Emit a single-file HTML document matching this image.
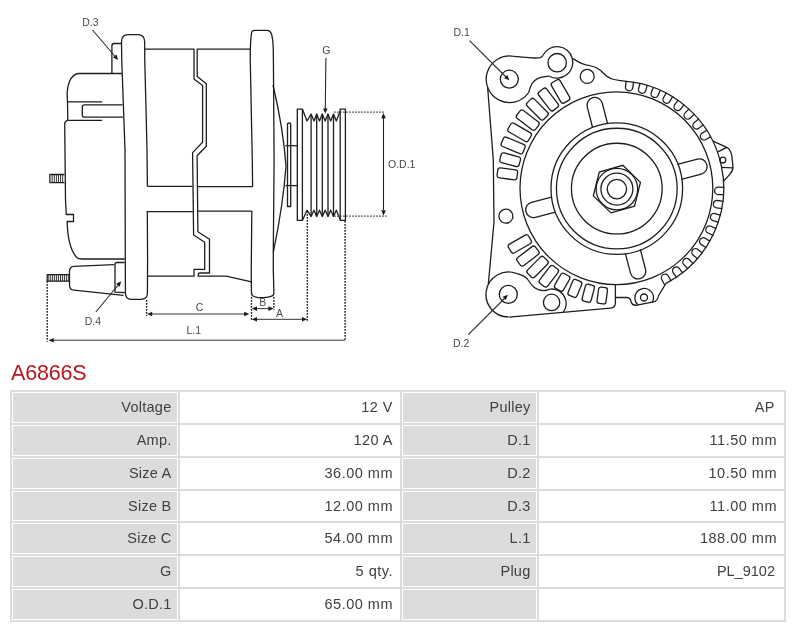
<!DOCTYPE html>
<html><head><meta charset="utf-8">
<style>
html,body{margin:0;padding:0;background:#fff;width:800px;height:627px;overflow:hidden;}
h1,table,#draw{will-change:transform;}
body{position:relative;font-family:"Liberation Sans",sans-serif;}
#draw{position:absolute;left:0;top:0;width:800px;height:355px;}
h1{position:absolute;left:11px;top:360px;margin:0;font-weight:normal;font-size:21.5px;letter-spacing:-0.2px;line-height:26px;color:#b8161e;}
table{position:absolute;left:10px;top:390px;border-collapse:separate;border-spacing:2px;background:#dcdcdc;}
td{border:1px solid #fff;height:30.86px;padding:0 5px 1px 0;box-sizing:border-box;text-align:right;font-size:14.5px;color:#404040;}
td.l{background:#dcdcdc;letter-spacing:0.25px;padding-right:5.5px;}
td.v{background:#fff;letter-spacing:0.5px;padding-right:6px;}
td.c1{width:166px;}
td.c2{width:220px;}
td.c3{width:135px;}
td.c4{width:245px;}
</style></head><body>
<svg id="draw" width="800" height="355" viewBox="0 0 800 355" font-family="Liberation Sans, sans-serif">
<path d="M121.5,43.5 L114.2,43.5 Q111.9,43.5 111.9,46 L111.9,73.5" fill="none" stroke="#1e1e1e" stroke-width="1.3" stroke-linejoin="round" />
<path d="M121.8,73.5 L78.5,73.5 C70,74.4 67,86 67.2,96 L67.5,101.9 L67.8,120.3" fill="none" stroke="#1e1e1e" stroke-width="1.3" stroke-linejoin="round" />
<path d="M67.5,101.9 L102.2,101.9" fill="none" stroke="#1e1e1e" stroke-width="1.3" stroke-linejoin="round" />
<path d="M67.8,120.3 L102.2,120.3" fill="none" stroke="#1e1e1e" stroke-width="1.3" stroke-linejoin="round" />
<path d="M122.6,104.8 L84.2,104.8 Q82.3,104.8 82.3,106.7 L82.3,115.3 Q82.3,117.2 84.2,117.2 L122.9,117.2" fill="none" stroke="#1e1e1e" stroke-width="1.3" stroke-linejoin="round" />
<path d="M67.8,120.3 Q64.7,120.8 64.7,124 L65.5,200 L66.3,214.5 L73.5,214.5 L73.5,221.5 L67.1,221.5 C67.5,236 70,250 76.7,257.5 Q78,259 82,259 L124.7,259" fill="none" stroke="#1e1e1e" stroke-width="1.3" stroke-linejoin="round" />
<path d="M64.5,174.5 L49.9,174.5 L49.9,182.6 L64.5,182.6" fill="none" stroke="#1e1e1e" stroke-width="1.3" stroke-linejoin="round" />
<path d="M52.20,174.5 L52.20,182.6" fill="none" stroke="#1e1e1e" stroke-width="0.9" stroke-linejoin="round" />
<path d="M54.30,174.5 L54.30,182.6" fill="none" stroke="#1e1e1e" stroke-width="0.9" stroke-linejoin="round" />
<path d="M56.40,174.5 L56.40,182.6" fill="none" stroke="#1e1e1e" stroke-width="0.9" stroke-linejoin="round" />
<path d="M58.50,174.5 L58.50,182.6" fill="none" stroke="#1e1e1e" stroke-width="0.9" stroke-linejoin="round" />
<path d="M60.60,174.5 L60.60,182.6" fill="none" stroke="#1e1e1e" stroke-width="0.9" stroke-linejoin="round" />
<path d="M62.70,174.5 L62.70,182.6" fill="none" stroke="#1e1e1e" stroke-width="0.9" stroke-linejoin="round" />
<path d="M147.4,186.3 L147,150 L146.3,120 L144.75,60 L144.7,42 Q144.5,34.7 138,34.7 L128,34.7 Q121.5,34.7 121.5,42 L121.75,60 L125,150 L125.4,293 Q125.6,299.3 131,299.3 L141,299.3 Q147.4,299.3 147.4,293.5 L147.6,260 L147.3,211.6" fill="none" stroke="#1e1e1e" stroke-width="1.3" stroke-linejoin="round" />
<path d="M144.9,49.2 L194,49.2 L194,79 L202.6,85.4 L202.6,142.3 L192.6,152.6 L193.6,235 L204.7,242.2 L204.7,269.3 L194,269.3 L194,276.2 L147,276.2" fill="none" stroke="#1e1e1e" stroke-width="1.3" stroke-linejoin="round" />
<path d="M147.3,186.3 L192.6,186.3" fill="none" stroke="#1e1e1e" stroke-width="1.3" stroke-linejoin="round" />
<path d="M146.7,211.6 L193.2,211.6" fill="none" stroke="#1e1e1e" stroke-width="1.3" stroke-linejoin="round" />
<path d="M250.3,49.2 L197.2,49.2 L197.2,76.6 L206.3,83.8 L206.3,146.3 L197.1,155.8 L197.9,231.8 L209.5,239.3 L209.5,273 L200,273 Q198.3,273 198.3,274.6 L198.3,276.2 L226.3,276.2 L251.5,281.8" fill="none" stroke="#1e1e1e" stroke-width="1.3" stroke-linejoin="round" />
<path d="M197.2,186.6 L252.6,186.7" fill="none" stroke="#1e1e1e" stroke-width="1.3" stroke-linejoin="round" />
<path d="M197.9,211.1 L251.8,211.1" fill="none" stroke="#1e1e1e" stroke-width="1.3" stroke-linejoin="round" />
<path d="M252.6,186.7 L252.3,160 L250.25,60 L250.3,49 Q250.8,38 251.5,33 Q252,30.4 254.5,30.4 L267,30.4 Q270,30.4 271.3,33.4 Q273,38 273.3,49.6 L273.4,60 L274.1,160 L273.3,252 L273.3,270 L273.9,293 Q273.9,295.8 271,296.3 Q262.5,299 254,296.5 Q251.5,295.8 251.4,292 L251.25,270 L251.8,211.1" fill="none" stroke="#1e1e1e" stroke-width="1.3" stroke-linejoin="round" />
<path d="M273,85 C277.5,104 284,138 286,166 C284,194 277.5,232 273.3,252.3" fill="none" stroke="#1e1e1e" stroke-width="1.3" stroke-linejoin="round" />
<path d="M287.5,206.5 L287.5,124 Q287.5,123 289.1,123 Q290.7,123 290.7,124 L290.7,206.5 Z" fill="none" stroke="#1e1e1e" stroke-width="1.3" stroke-linejoin="round" />
<path d="M285.5,145.7 L297.4,145.7" fill="none" stroke="#1e1e1e" stroke-width="1.3" stroke-linejoin="round" />
<path d="M285.5,185.6 L297.4,185.6" fill="none" stroke="#1e1e1e" stroke-width="1.3" stroke-linejoin="round" />
<path d="M302.4,109.1 L297.3,109.1 L297.3,220.4 L302.4,220.4 Z" fill="none" stroke="#1e1e1e" stroke-width="1.3" stroke-linejoin="round" />
<path d="M340.2,109.1 L345.4,109.1 L345.4,220.4 L340.2,220.4 Z" fill="none" stroke="#1e1e1e" stroke-width="1.3" stroke-linejoin="round" />
<path d="M302.4,109.1 L307.0,121 L311.1,114 L314.0,121 L316.7,114 L319.5,121 L322.3,114 L325.1,121 L328.0,114 L330.7,121 L333.5,114 L336.3,121 L340.2,111" fill="none" stroke="#1e1e1e" stroke-width="1.3" stroke-linejoin="round" />
<path d="M302.4,220.4 L307.0,210.2 L311.1,216.4 L314.0,210.2 L316.7,216.4 L319.5,210.2 L322.3,216.4 L325.1,210.2 L328.0,216.4 L330.7,210.2 L333.5,216.4 L336.3,210.2 L340.2,219.5" fill="none" stroke="#1e1e1e" stroke-width="1.3" stroke-linejoin="round" />
<path d="M311.1,114 L311.1,216.4" fill="none" stroke="#1e1e1e" stroke-width="1.3" stroke-linejoin="round" />
<path d="M316.7,114 L316.7,216.4" fill="none" stroke="#1e1e1e" stroke-width="1.3" stroke-linejoin="round" />
<path d="M322.3,114 L322.3,216.4" fill="none" stroke="#1e1e1e" stroke-width="1.3" stroke-linejoin="round" />
<path d="M328.0,114 L328.0,216.4" fill="none" stroke="#1e1e1e" stroke-width="1.3" stroke-linejoin="round" />
<path d="M333.5,114 L333.5,216.4" fill="none" stroke="#1e1e1e" stroke-width="1.3" stroke-linejoin="round" />
<text x="326.4" y="53.5" font-size="10.5" text-anchor="middle" fill="#484848">G</text>
<line x1="325.9" y1="58" x2="325.3" y2="109" stroke="#2a2a2a" stroke-width="1.1"/>
<polygon points="325.30,113.60 323.00,108.40 327.60,108.40" fill="#1a1a1a"/>
<line x1="334" y1="112.2" x2="385" y2="112.2" stroke="#555" stroke-width="1.2" stroke-dasharray="1.8,1.2"/>
<line x1="334" y1="216.2" x2="386.6" y2="216.2" stroke="#555" stroke-width="1.2" stroke-dasharray="1.8,1.2"/>
<line x1="383.5" y1="118" x2="383.5" y2="210" stroke="#222" stroke-width="1.1"/>
<polygon points="383.50,113.00 385.80,118.20 381.20,118.20" fill="#1a1a1a"/>
<polygon points="383.50,215.50 381.20,210.30 385.80,210.30" fill="#1a1a1a"/>
<text x="388" y="168.3" font-size="10.5" text-anchor="start" fill="#484848">O.D.1</text>
<text x="90.3" y="25.5" font-size="10.5" text-anchor="middle" fill="#484848">D.3</text>
<line x1="92.5" y1="30" x2="116" y2="57.5" stroke="#2a2a2a" stroke-width="1.1"/>
<polygon points="118.10,59.90 112.97,57.45 116.47,54.45" fill="#1a1a1a"/>
<text x="92.8" y="325" font-size="10.5" text-anchor="middle" fill="#484848">D.4</text>
<line x1="95.8" y1="312" x2="119" y2="284" stroke="#2a2a2a" stroke-width="1.1"/>
<polygon points="121.20,281.20 119.67,286.68 116.12,283.75" fill="#1a1a1a"/>
<line x1="47.2" y1="281" x2="47.2" y2="341.8" stroke="#161616" stroke-width="1.35" stroke-dasharray="1.8,1.2"/>
<line x1="345.1" y1="221" x2="345.1" y2="341" stroke="#161616" stroke-width="1.35" stroke-dasharray="1.8,1.2"/>
<line x1="52" y1="340.2" x2="345" y2="340.2" stroke="#333" stroke-width="1.0"/>
<polygon points="48.50,340.20 53.70,337.90 53.70,342.50" fill="#1a1a1a"/>
<text x="193.8" y="334.4" font-size="10.5" text-anchor="middle" fill="#484848">L.1</text>
<line x1="146.6" y1="300" x2="146.6" y2="316" stroke="#161616" stroke-width="1.35" stroke-dasharray="1.8,1.2"/>
<line x1="152" y1="314" x2="245" y2="314" stroke="#333" stroke-width="1.0"/>
<polygon points="147.00,314.00 152.20,311.70 152.20,316.30" fill="#1a1a1a"/>
<polygon points="249.30,314.00 244.10,316.30 244.10,311.70" fill="#1a1a1a"/>
<text x="199.5" y="310.8" font-size="10.5" text-anchor="middle" fill="#484848">C</text>
<line x1="251.5" y1="297" x2="251.5" y2="321" stroke="#161616" stroke-width="1.35" stroke-dasharray="1.8,1.2"/>
<line x1="273.9" y1="297" x2="273.9" y2="309.7" stroke="#161616" stroke-width="1.35" stroke-dasharray="1.8,1.2"/>
<line x1="256" y1="308.6" x2="269" y2="308.6" stroke="#333" stroke-width="1.0"/>
<polygon points="251.80,308.60 257.00,306.30 257.00,310.90" fill="#1a1a1a"/>
<polygon points="273.60,308.60 268.40,310.90 268.40,306.30" fill="#1a1a1a"/>
<text x="262.7" y="305.8" font-size="10.5" text-anchor="middle" fill="#484848">B</text>
<line x1="307.3" y1="211" x2="307.3" y2="321" stroke="#161616" stroke-width="1.35" stroke-dasharray="1.8,1.2"/>
<line x1="256" y1="319.3" x2="303" y2="319.3" stroke="#333" stroke-width="1.0"/>
<polygon points="251.80,319.30 257.00,317.00 257.00,321.60" fill="#1a1a1a"/>
<polygon points="307.20,319.30 302.00,321.60 302.00,317.00" fill="#1a1a1a"/>
<text x="279.4" y="316.9" font-size="10.5" text-anchor="middle" fill="#484848">A</text>
<path d="M114.2,264.6 L74,266.3 Q69.5,266.6 69.5,271 L69.5,285 Q69.5,289.8 74,290.2 L123.5,295.3" fill="none" stroke="#1e1e1e" stroke-width="1.3" stroke-linejoin="round" />
<path d="M124.6,262.5 L117,262.5 Q115,262.5 115,264.5 L115,292.2 L124.9,292.6" fill="none" stroke="#1e1e1e" stroke-width="1.3" stroke-linejoin="round" />
<path d="M69.3,274.7 L47.2,274.7 L47.2,281.2 L69.3,281.2" fill="none" stroke="#1e1e1e" stroke-width="1.3" stroke-linejoin="round" />
<path d="M48.80,274.7 L48.80,281.2" fill="none" stroke="#1e1e1e" stroke-width="0.9" stroke-linejoin="round" />
<path d="M50.75,274.7 L50.75,281.2" fill="none" stroke="#1e1e1e" stroke-width="0.9" stroke-linejoin="round" />
<path d="M52.70,274.7 L52.70,281.2" fill="none" stroke="#1e1e1e" stroke-width="0.9" stroke-linejoin="round" />
<path d="M54.65,274.7 L54.65,281.2" fill="none" stroke="#1e1e1e" stroke-width="0.9" stroke-linejoin="round" />
<path d="M56.60,274.7 L56.60,281.2" fill="none" stroke="#1e1e1e" stroke-width="0.9" stroke-linejoin="round" />
<path d="M58.55,274.7 L58.55,281.2" fill="none" stroke="#1e1e1e" stroke-width="0.9" stroke-linejoin="round" />
<path d="M60.50,274.7 L60.50,281.2" fill="none" stroke="#1e1e1e" stroke-width="0.9" stroke-linejoin="round" />
<path d="M62.45,274.7 L62.45,281.2" fill="none" stroke="#1e1e1e" stroke-width="0.9" stroke-linejoin="round" />
<path d="M64.40,274.7 L64.40,281.2" fill="none" stroke="#1e1e1e" stroke-width="0.9" stroke-linejoin="round" />
<path d="M66.35,274.7 L66.35,281.2" fill="none" stroke="#1e1e1e" stroke-width="0.9" stroke-linejoin="round" />
<path d="M68.30,274.7 L68.30,281.2" fill="none" stroke="#1e1e1e" stroke-width="0.9" stroke-linejoin="round" />
<circle cx="616.40" cy="188.20" r="96.40" fill="none" stroke="#1e1e1e" stroke-width="1.3"/>
<circle cx="616.80" cy="188.60" r="65.80" fill="none" stroke="#1e1e1e" stroke-width="1.3"/>
<circle cx="616.80" cy="188.60" r="60.35" fill="none" stroke="#1e1e1e" stroke-width="1.3"/>
<circle cx="616.80" cy="188.60" r="45.35" fill="none" stroke="#1e1e1e" stroke-width="1.3"/>
<circle cx="616.90" cy="189.10" r="20.80" fill="none" stroke="#1e1e1e" stroke-width="1.3"/>
<circle cx="616.90" cy="189.10" r="16.00" fill="none" stroke="#1e1e1e" stroke-width="1.3"/>
<circle cx="616.90" cy="189.10" r="9.70" fill="none" stroke="#1e1e1e" stroke-width="1.3"/>
<polygon points="622.83,165.33 640.45,182.35 634.52,206.12 610.97,212.87 593.35,195.85 599.28,172.08" fill="none" stroke="#1e1e1e" stroke-width="1.3"/>
<path d="M65.0,-7.75 L85.75,-7.75 A7.75,7.75 0 0 1 85.75,7.75 L65.0,7.75" fill="none" stroke="#1e1e1e" stroke-width="1.3" transform="translate(616.4,188.2) rotate(-104.6)"/>
<path d="M65.0,-7.75 L85.75,-7.75 A7.75,7.75 0 0 1 85.75,7.75 L65.0,7.75" fill="none" stroke="#1e1e1e" stroke-width="1.3" transform="translate(616.4,188.2) rotate(-14.6)"/>
<path d="M65.0,-7.75 L85.75,-7.75 A7.75,7.75 0 0 1 85.75,7.75 L65.0,7.75" fill="none" stroke="#1e1e1e" stroke-width="1.3" transform="translate(616.4,188.2) rotate(75.4)"/>
<path d="M65.0,-7.75 L85.75,-7.75 A7.75,7.75 0 0 1 85.75,7.75 L65.0,7.75" fill="none" stroke="#1e1e1e" stroke-width="1.3" transform="translate(616.4,188.2) rotate(165.4)"/>
<rect x="100.00" y="-5.00" width="23.50" height="10.00" rx="2.5" ry="2.5" fill="none" stroke="#1e1e1e" stroke-width="1.3" transform="translate(616.4,188.2) rotate(-120.0)"/>
<rect x="100.00" y="-5.00" width="23.50" height="10.00" rx="2.5" ry="2.5" fill="none" stroke="#1e1e1e" stroke-width="1.3" transform="translate(616.4,188.2) rotate(-127.5)"/>
<rect x="100.00" y="-5.00" width="23.50" height="10.00" rx="2.5" ry="2.5" fill="none" stroke="#1e1e1e" stroke-width="1.3" transform="translate(616.4,188.2) rotate(-135.0)"/>
<rect x="100.00" y="-5.00" width="23.50" height="10.00" rx="2.5" ry="2.5" fill="none" stroke="#1e1e1e" stroke-width="1.3" transform="translate(616.4,188.2) rotate(-142.5)"/>
<rect x="100.00" y="-5.00" width="23.50" height="10.00" rx="2.5" ry="2.5" fill="none" stroke="#1e1e1e" stroke-width="1.3" transform="translate(616.4,188.2) rotate(-150.0)"/>
<rect x="100.00" y="-5.00" width="23.50" height="10.00" rx="2.5" ry="2.5" fill="none" stroke="#1e1e1e" stroke-width="1.3" transform="translate(616.4,188.2) rotate(-157.5)"/>
<rect x="100.00" y="-5.00" width="20.00" height="10.00" rx="2.5" ry="2.5" fill="none" stroke="#1e1e1e" stroke-width="1.3" transform="translate(616.4,188.2) rotate(-165.0)"/>
<rect x="100.00" y="-5.00" width="20.00" height="10.00" rx="2.5" ry="2.5" fill="none" stroke="#1e1e1e" stroke-width="1.3" transform="translate(616.4,188.2) rotate(-172.5)"/>
<rect x="100.00" y="-5.00" width="23.00" height="10.00" rx="2.5" ry="2.5" fill="none" stroke="#1e1e1e" stroke-width="1.3" transform="translate(616.4,188.2) rotate(150.0)"/>
<rect x="100.00" y="-5.00" width="23.00" height="10.00" rx="2.5" ry="2.5" fill="none" stroke="#1e1e1e" stroke-width="1.3" transform="translate(616.4,188.2) rotate(142.5)"/>
<rect x="100.00" y="-5.00" width="23.00" height="10.00" rx="2.5" ry="2.5" fill="none" stroke="#1e1e1e" stroke-width="1.3" transform="translate(616.4,188.2) rotate(135.0)"/>
<rect x="100.00" y="-5.00" width="22.00" height="10.00" rx="2.5" ry="2.5" fill="none" stroke="#1e1e1e" stroke-width="1.3" transform="translate(616.4,188.2) rotate(127.5)"/>
<rect x="100.00" y="-5.00" width="17.00" height="10.00" rx="2.5" ry="2.5" fill="none" stroke="#1e1e1e" stroke-width="1.3" transform="translate(616.4,188.2) rotate(120.0)"/>
<rect x="100.00" y="-4.80" width="17.00" height="9.60" rx="2.5" ry="2.5" fill="none" stroke="#1e1e1e" stroke-width="1.3" transform="translate(616.4,188.2) rotate(112.5)"/>
<rect x="100.00" y="-4.60" width="17.50" height="9.20" rx="2.5" ry="2.5" fill="none" stroke="#1e1e1e" stroke-width="1.3" transform="translate(616.4,188.2) rotate(105.0)"/>
<rect x="100.00" y="-4.50" width="16.50" height="9.00" rx="2.5" ry="2.5" fill="none" stroke="#1e1e1e" stroke-width="1.3" transform="translate(616.4,188.2) rotate(97.5)"/>
<path d="M107.8,-3.7 L101.9,-3.7 A3.7,3.7 0 0 0 101.9,3.7 L107.8,3.7" fill="none" stroke="#1e1e1e" stroke-width="1.3" transform="translate(616.4,188.2) rotate(-82.8)"/>
<path d="M107.8,-3.7 L101.9,-3.7 A3.7,3.7 0 0 0 101.9,3.7 L107.8,3.7" fill="none" stroke="#1e1e1e" stroke-width="1.3" transform="translate(616.4,188.2) rotate(-75.35)"/>
<path d="M107.8,-3.7 L101.9,-3.7 A3.7,3.7 0 0 0 101.9,3.7 L107.8,3.7" fill="none" stroke="#1e1e1e" stroke-width="1.3" transform="translate(616.4,188.2) rotate(-67.89999999999999)"/>
<path d="M107.8,-3.7 L101.9,-3.7 A3.7,3.7 0 0 0 101.9,3.7 L107.8,3.7" fill="none" stroke="#1e1e1e" stroke-width="1.3" transform="translate(616.4,188.2) rotate(-60.449999999999996)"/>
<path d="M107.8,-3.7 L101.9,-3.7 A3.7,3.7 0 0 0 101.9,3.7 L107.8,3.7" fill="none" stroke="#1e1e1e" stroke-width="1.3" transform="translate(616.4,188.2) rotate(-53.0)"/>
<path d="M107.8,-3.7 L101.9,-3.7 A3.7,3.7 0 0 0 101.9,3.7 L107.8,3.7" fill="none" stroke="#1e1e1e" stroke-width="1.3" transform="translate(616.4,188.2) rotate(-45.55)"/>
<path d="M107.8,-3.7 L101.9,-3.7 A3.7,3.7 0 0 0 101.9,3.7 L107.8,3.7" fill="none" stroke="#1e1e1e" stroke-width="1.3" transform="translate(616.4,188.2) rotate(-38.099999999999994)"/>
<path d="M107.8,-3.7 L101.9,-3.7 A3.7,3.7 0 0 0 101.9,3.7 L107.8,3.7" fill="none" stroke="#1e1e1e" stroke-width="1.3" transform="translate(616.4,188.2) rotate(-30.65)"/>
<path d="M107.8,-3.7 L101.9,-3.7 A3.7,3.7 0 0 0 101.9,3.7 L107.8,3.7" fill="none" stroke="#1e1e1e" stroke-width="1.3" transform="translate(616.4,188.2) rotate(1.5)"/>
<path d="M107.8,-3.7 L101.9,-3.7 A3.7,3.7 0 0 0 101.9,3.7 L107.8,3.7" fill="none" stroke="#1e1e1e" stroke-width="1.3" transform="translate(616.4,188.2) rotate(9.0)"/>
<path d="M107.8,-3.7 L101.9,-3.7 A3.7,3.7 0 0 0 101.9,3.7 L107.8,3.7" fill="none" stroke="#1e1e1e" stroke-width="1.3" transform="translate(616.4,188.2) rotate(16.5)"/>
<path d="M107.8,-3.7 L101.9,-3.7 A3.7,3.7 0 0 0 101.9,3.7 L107.8,3.7" fill="none" stroke="#1e1e1e" stroke-width="1.3" transform="translate(616.4,188.2) rotate(24.0)"/>
<path d="M107.8,-3.7 L101.9,-3.7 A3.7,3.7 0 0 0 101.9,3.7 L107.8,3.7" fill="none" stroke="#1e1e1e" stroke-width="1.3" transform="translate(616.4,188.2) rotate(31.5)"/>
<path d="M107.8,-3.7 L101.9,-3.7 A3.7,3.7 0 0 0 101.9,3.7 L107.8,3.7" fill="none" stroke="#1e1e1e" stroke-width="1.3" transform="translate(616.4,188.2) rotate(39.0)"/>
<path d="M107.8,-3.7 L101.9,-3.7 A3.7,3.7 0 0 0 101.9,3.7 L107.8,3.7" fill="none" stroke="#1e1e1e" stroke-width="1.3" transform="translate(616.4,188.2) rotate(46.5)"/>
<path d="M107.8,-3.7 L101.9,-3.7 A3.7,3.7 0 0 0 101.9,3.7 L107.8,3.7" fill="none" stroke="#1e1e1e" stroke-width="1.3" transform="translate(616.4,188.2) rotate(54.0)"/>
<path d="M107.8,-3.7 L101.9,-3.7 A3.7,3.7 0 0 0 101.9,3.7 L107.8,3.7" fill="none" stroke="#1e1e1e" stroke-width="1.3" transform="translate(616.4,188.2) rotate(61.5)"/>
<circle cx="509.30" cy="79.20" r="9.00" fill="none" stroke="#1e1e1e" stroke-width="1.3"/>
<circle cx="557.20" cy="62.70" r="9.20" fill="none" stroke="#1e1e1e" stroke-width="1.3"/>
<circle cx="587.20" cy="76.40" r="7.00" fill="none" stroke="#1e1e1e" stroke-width="1.3"/>
<circle cx="505.90" cy="216.20" r="7.00" fill="none" stroke="#1e1e1e" stroke-width="1.3"/>
<circle cx="508.30" cy="294.40" r="9.00" fill="none" stroke="#1e1e1e" stroke-width="1.3"/>
<circle cx="551.60" cy="302.40" r="8.20" fill="none" stroke="#1e1e1e" stroke-width="1.3"/>
<circle cx="722.90" cy="160.10" r="2.90" fill="none" stroke="#1e1e1e" stroke-width="1.3"/>
<circle cx="644.00" cy="297.50" r="3.50" fill="none" stroke="#1e1e1e" stroke-width="1.3"/>
<path d="M528.70,92.50 A23.3,23.3 0 1 1 513.55,56.35" fill="none" stroke="#1e1e1e" stroke-width="1.3" stroke-linejoin="round"/>
<path d="M513.55,56.35 C522,56.6 532,59.2 540.68,57.52 Q542.18,56.32 542.68,55.72" fill="none" stroke="#1e1e1e" stroke-width="1.3" stroke-linejoin="round"/>
<path d="M542.68,55.72 A15.8,15.8 0 0 1 572.26,58.31" fill="none" stroke="#1e1e1e" stroke-width="1.3" stroke-linejoin="round"/>
<path d="M572.26,58.31 C577,60.5 580,63.8 586,64.8 C592,65.6 597,67.2 601,70.8 C604.5,74 607,77.5 612,79 C615.5,80 620,80.5 623.88,81.16" fill="none" stroke="#1e1e1e" stroke-width="1.3" stroke-linejoin="round"/>
<path d="M528.70,92.50 C530.5,86 532,81 538,78.3 C542,76.6 546,76.6 549.34,76.22" fill="none" stroke="#1e1e1e" stroke-width="1.3" stroke-linejoin="round"/>
<path d="M572.26,58.31 A15.8,15.8 0 0 1 549.34,76.22" fill="none" stroke="#1e1e1e" stroke-width="1.3" stroke-linejoin="round"/>
<path d="M623.88,81.16 A107.3,107.3 0 0 1 665.95,283.38" fill="none" stroke="#1e1e1e" stroke-width="1.3" stroke-linejoin="round"/>
<path d="M665.95,283.38 L658.6,295.5 Q657.5,301.2 653.5,301.8 L637,305.2 Q632,305.8 631,301.5 Q630.3,297.5 626.5,297.5 L615.5,297.5" fill="none" stroke="#1e1e1e" stroke-width="1.3" stroke-linejoin="round"/>
<path d="M638.16,305.00 A9.4,9.4 0 1 1 652.34,302.50" fill="none" stroke="#1e1e1e" stroke-width="1.3" stroke-linejoin="round"/>
<path d="M615.4,284.50 L615.4,303 Q615.5,307.6 610.5,308.1 L509,317.1" fill="none" stroke="#1e1e1e" stroke-width="1.3" stroke-linejoin="round"/>
<path d="M508.50,317.00 A22.5,22.5 0 1 1 516.20,273.36" fill="none" stroke="#1e1e1e" stroke-width="1.3" stroke-linejoin="round"/>
<path d="M516.20,273.36 C520.5,274.3 525.5,276 528.5,280.5 C532,286 535.5,290.6 543.5,290.6 C546,290.6 548,289.4 550.34,289.06" fill="none" stroke="#1e1e1e" stroke-width="1.3" stroke-linejoin="round"/>
<path d="M550.34,289.06 A14.5,14.5 0 0 1 563.33,312.02" fill="none" stroke="#1e1e1e" stroke-width="1.3" stroke-linejoin="round"/>
<path d="M487.61,87.27 L493.3,160 L494,222 L488.28,284.64" fill="none" stroke="#1e1e1e" stroke-width="1.3" stroke-linejoin="round"/>
<path d="M712.9,141.2 L726.8,147.3 Q730.5,149 731.8,155.7 L733,166.5 Q733.2,170.5 729.6,174.6 L723.5,181.3" fill="none" stroke="#1e1e1e" stroke-width="1.3" stroke-linejoin="round"/>
<path d="M717.9,151.8 L726.8,147.3" fill="none" stroke="#1e1e1e" stroke-width="1.3" stroke-linejoin="round"/>
<path d="M721.8,167.4 L733,167.9" fill="none" stroke="#1e1e1e" stroke-width="1.3" stroke-linejoin="round"/>
<text x="453.5" y="36.2" font-size="10.5" text-anchor="start" fill="#484848">D.1</text>
<text x="453" y="346.5" font-size="10.5" text-anchor="start" fill="#484848">D.2</text>
<line x1="469.5" y1="40.7" x2="506" y2="77" stroke="#2a2a2a" stroke-width="1.1"/>
<polygon points="509.40,80.30 504.09,78.27 507.33,75.00" fill="#1a1a1a"/>
<line x1="468.3" y1="334.6" x2="505" y2="298" stroke="#2a2a2a" stroke-width="1.1"/>
<polygon points="507.90,294.70 505.87,300.01 502.60,296.77" fill="#1a1a1a"/>
</svg>
<h1>A6866S</h1>
<table>
<tr><td class="l c1">Voltage</td><td class="v c2">12 V</td><td class="l c3">Pulley</td><td class="v c4" style="padding-right:8px">AP</td></tr>
<tr><td class="l c1">Amp.</td><td class="v c2">120 A</td><td class="l c3">D.1</td><td class="v c4">11.50 mm</td></tr>
<tr><td class="l c1">Size A</td><td class="v c2">36.00 mm</td><td class="l c3">D.2</td><td class="v c4">10.50 mm</td></tr>
<tr><td class="l c1">Size B</td><td class="v c2">12.00 mm</td><td class="l c3">D.3</td><td class="v c4">11.00 mm</td></tr>
<tr><td class="l c1">Size C</td><td class="v c2">54.00 mm</td><td class="l c3">L.1</td><td class="v c4">188.00 mm</td></tr>
<tr><td class="l c1">G</td><td class="v c2">5 qty.</td><td class="l c3">Plug</td><td class="v c4" style="padding-right:8px;letter-spacing:0">PL_9102</td></tr>
<tr><td class="l c1">O.D.1</td><td class="v c2">65.00 mm</td><td class="l c3"></td><td class="v c4"></td></tr>
</table>
</body></html>
